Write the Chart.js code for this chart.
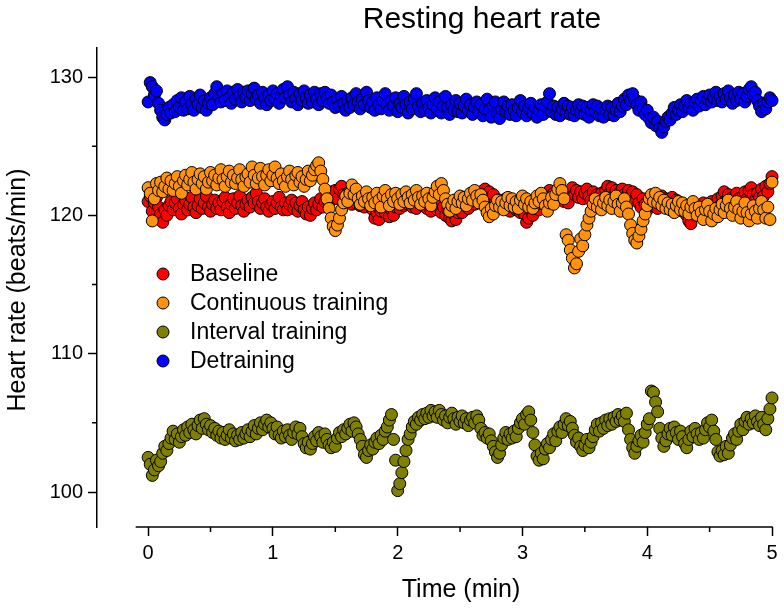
<!DOCTYPE html>
<html>
<head>
<meta charset="utf-8">
<title>Resting heart rate</title>
<script src="https://cdn.jsdelivr.net/npm/chart.js@4.4.1/dist/chart.umd.min.js"></script>
<style>
  html, body { margin: 0; padding: 0; background: #fff; }
  #wrap { position: relative; width: 784px; height: 609px; }
</style>
</head>
<body>
<div id="wrap"><canvas id="chart"></canvas></div>
<script>
// one reading per second, 0 to 5 min; each line below is 0.1 min
const SAMPLE_MIN = 1 / 60;

const baseline = [
  121.0, 121.4, 120.3, 120.9, 121.3, 120.6,
  120.1, 119.5, 120.4, 120.0, 120.7, 121.0,
  120.4, 120.9, 121.2, 120.5, 120.1, 120.8,
  121.1, 120.4, 120.8, 121.3, 120.6, 120.2,
  120.7, 121.2, 120.5, 120.9, 121.4, 120.6,
  120.3, 120.8, 121.1, 120.5, 120.9, 120.4,
  121.0, 121.3, 120.6, 120.2, 120.8, 121.2,
  120.5, 120.9, 121.4, 120.7, 120.3, 120.8,
  121.1, 120.6, 121.3, 120.9, 121.6, 121.0,
  120.5, 120.9, 121.2, 120.6, 120.3, 120.8,
  121.0, 120.5, 120.9, 121.3, 120.6, 120.4,
  120.9, 120.4, 120.8, 121.1, 120.5, 120.9,
  120.3, 120.7, 121.0, 120.4, 120.1, 120.6,
  120.0, 120.5, 120.9, 120.4, 120.8, 121.2,
  120.6, 121.0, 121.4, 120.9, 121.7, 121.3,
  121.8, 121.2, 121.9, 122.1, 121.5, 121.0,
  121.6, 121.2, 120.8, 121.4, 120.9, 121.3,
  120.7, 121.1, 120.6, 120.9, 121.3, 120.8,
  120.4, 119.8, 120.2, 119.7, 120.3, 120.7,
  120.2, 120.8, 119.9, 120.4, 120.0, 120.6,
  121.0, 120.5, 121.1, 120.7, 121.3, 120.8,
  121.2, 120.6, 121.0, 120.5, 120.9, 121.3,
  120.7, 121.1, 120.5, 120.8, 120.3, 120.7,
  121.0, 120.4, 120.8, 120.2, 120.6, 120.0,
  120.4, 119.8, 119.6, 120.1, 119.7, 120.2,
  120.6, 120.2, 120.8, 121.1, 120.5, 120.9,
  121.3, 120.8, 121.5, 121.2, 121.7, 121.4,
  121.9, 121.3, 121.7, 121.1, 121.5, 120.9,
  120.6, 121.1, 120.5, 120.9, 121.2, 120.6,
  120.3, 120.8, 121.0, 120.4, 120.7, 120.2,
  120.6, 120.1, 119.5, 119.8, 120.4, 120.0,
  120.5, 120.9, 120.4, 121.2, 120.8, 121.4,
  121.0, 121.8, 121.3, 121.6, 121.1, 121.5,
  121.2, 121.7, 121.0, 121.4, 120.9, 121.6,
  122.0, 121.5, 121.8, 121.3, 121.7, 121.2,
  121.6, 121.9, 121.4, 121.1, 121.7, 121.3,
  121.5, 121.0, 121.6, 121.2, 121.8, 122.1,
  121.6, 122.0, 121.4, 121.8, 121.3, 121.7,
  121.9, 121.5, 121.2, 121.8, 121.4, 121.7,
  121.1, 121.5, 120.9, 120.6, 121.2, 120.8,
  120.4, 120.9, 121.3, 120.7, 121.0, 120.5,
  120.9, 121.4, 120.8, 121.2, 120.6, 121.0,
  121.3, 120.7, 121.1, 120.5, 120.9, 120.3,
  120.6, 120.0, 119.6, 119.4, 120.1, 120.5,
  120.2, 120.7, 120.3, 120.9, 120.5, 120.1,
  120.6, 121.0, 120.4, 120.8, 121.2, 120.7,
  121.4, 121.7, 121.1, 121.5, 120.9, 121.3,
  121.0, 121.6, 121.2, 120.8, 121.4, 121.7,
  121.2, 121.8, 122.0, 121.5, 121.1, 121.6,
  121.3, 121.9, 121.4, 122.1, 121.7, 122.3,
  122.8,
];

const continuous = [
  122.0, 121.6, 119.6, 121.2, 122.3, 121.8,
  122.4, 121.7, 122.1, 122.7, 121.9, 122.5,
  121.8, 122.3, 122.8, 122.1, 121.6, 122.5,
  122.9, 122.2, 122.6, 123.1, 122.4, 121.9,
  122.6, 123.0, 122.3, 122.8, 121.9, 122.4,
  123.1, 122.5, 122.9, 122.2, 122.7, 123.3,
  122.6, 122.1, 122.8, 123.2, 122.4, 122.9,
  122.3, 122.7, 123.3, 122.6, 122.1, 122.8,
  123.0, 122.4, 123.5, 122.9, 122.3, 122.7,
  123.4, 122.8, 122.2, 122.9, 123.3, 122.5,
  122.9, 123.5, 122.7, 122.3, 123.0, 122.5,
  122.1, 122.8, 123.2, 122.6, 122.2, 122.9,
  123.1, 122.4, 122.8, 122.1, 122.6, 123.2,
  122.5, 122.9, 123.3, 123.6, 123.8, 123.2,
  122.6, 121.9, 121.2, 120.5, 119.8, 119.2,
  118.9, 119.3, 119.8, 120.4, 120.9, 121.4,
  121.0, 121.6, 122.2, 121.5, 121.9, 121.2,
  120.8, 121.4, 121.0, 121.7, 121.2, 120.7,
  121.3, 120.9, 121.6, 121.1, 120.6, 121.4,
  121.8, 121.2, 120.7, 121.5, 121.0, 121.6,
  121.2, 120.8, 121.5, 121.0, 121.7, 121.3,
  120.9, 121.5, 121.1, 121.8, 121.3, 120.8,
  121.4, 121.0, 121.6, 121.2, 120.7, 121.3,
  121.7, 122.1, 121.5, 122.3, 121.8, 121.2,
  120.8, 120.3, 120.7, 121.1, 120.5, 121.0,
  121.4, 120.9, 121.3, 120.7, 121.2, 121.6,
  121.1, 121.8, 121.4, 120.9, 121.5, 121.1,
  120.6, 120.2, 119.9, 120.5, 120.1, 120.7,
  121.1, 120.6, 121.0, 120.4, 120.9, 121.3,
  120.7, 121.2, 120.6, 121.0, 120.5, 121.1,
  121.4, 120.8, 121.2, 120.6, 121.0, 120.5,
  120.9, 121.4, 121.0, 121.6, 121.2, 120.7,
  120.3, 120.9, 121.3, 120.8, 121.5, 121.9,
  122.3, 121.8, 121.2, 118.6, 118.2, 117.5,
  116.9, 116.2, 116.5, 117.4, 118.3, 117.8,
  118.6, 119.3, 119.8, 120.3, 120.8, 121.2,
  120.6, 121.0, 120.4, 120.9, 121.3, 120.7,
  121.1, 120.5, 121.0, 121.4, 120.8, 120.3,
  120.9, 121.2, 120.6, 120.1, 119.3, 118.7,
  118.2, 118.0, 118.5, 119.0, 119.6, 120.1,
  120.7, 121.2, 121.5, 121.0, 121.6, 120.9,
  121.3, 120.7, 121.1, 120.5, 120.9, 120.4,
  120.8, 120.2, 120.7, 121.0, 120.4, 120.9,
  120.3, 120.7, 120.1, 120.6, 121.0, 120.5,
  120.0, 120.6, 120.2, 119.7, 120.4, 120.8,
  120.3, 119.6, 120.1, 120.5, 119.9, 120.4,
  120.8, 120.2, 120.7, 121.1, 120.5, 120.0,
  120.6, 121.0, 120.4, 119.8, 120.3, 120.9,
  120.2, 119.6, 120.1, 120.7, 120.3, 119.8,
  120.5, 121.0, 120.4, 119.8, 120.6, 119.7,
  122.4,
];

const interval = [
  102.5, 102.0, 101.2, 101.6, 102.3, 101.9,
  102.2, 102.8, 103.3, 103.0, 103.5, 103.9,
  104.4, 103.8, 104.2, 103.6, 104.0, 104.5,
  104.1, 104.7, 104.3, 104.9, 104.5, 104.2,
  104.8, 105.2, 104.6, 105.3, 104.9, 104.5,
  104.8, 104.3, 104.6, 104.1, 104.4, 103.9,
  104.3, 103.8, 104.1, 104.5, 103.9, 104.2,
  103.7, 104.1, 103.8, 104.3, 103.9, 104.2,
  104.5, 104.0, 104.4, 104.8, 104.2, 104.6,
  105.0, 104.5, 104.9, 105.2, 104.7, 105.0,
  104.6, 104.2, 104.7, 104.1, 103.9, 104.4,
  104.0, 104.5, 104.1, 103.8, 104.3, 104.7,
  104.2, 104.6, 104.0, 103.5, 103.2, 103.6,
  103.1, 103.5, 104.0, 103.7, 104.3, 104.0,
  103.6, 104.2, 103.8, 103.4, 103.2, 103.6,
  103.3, 103.9, 104.3, 104.0, 104.5, 104.2,
  104.6, 104.9, 104.4, 105.0, 104.7, 104.2,
  103.8, 103.3, 102.7, 102.5, 103.0, 103.4,
  103.1, 103.6, 103.9, 103.5, 104.1, 103.8,
  104.4, 104.7, 105.2, 105.6, 103.8, 102.3,
  100.1, 100.6, 101.4, 102.2, 103.0, 103.8,
  104.2, 104.7, 105.1, 104.9, 105.4, 105.2,
  105.6, 105.3, 105.7, 105.4, 105.9, 105.5,
  105.8, 105.4, 105.9, 105.6, 105.2, 105.5,
  105.0, 105.4, 105.7, 105.3, 104.9, 105.4,
  105.1, 105.5, 105.0, 105.3, 104.8, 105.2,
  105.4, 105.0, 105.5, 105.2, 104.6, 104.1,
  104.3, 103.9, 104.2, 103.7, 103.3, 102.9,
  102.5, 102.8, 103.4, 103.9, 104.3, 103.8,
  104.2, 103.9, 104.4, 104.0, 104.6, 105.0,
  105.3, 104.9, 105.6, 105.8, 105.2, 104.3,
  103.4, 102.6, 102.3, 102.8, 102.4, 103.1,
  103.5, 103.2, 103.8, 104.2, 103.7, 104.4,
  104.7, 104.3, 104.9, 105.3, 104.8, 105.1,
  104.6, 104.1, 103.6, 103.9, 103.3, 103.0,
  103.4, 103.8, 103.2, 103.6, 104.0, 104.5,
  104.9, 104.4, 105.0, 104.6, 105.2, 104.8,
  105.3, 104.9, 105.4, 105.1, 105.6, 105.2,
  105.5, 105.1, 105.7, 104.5, 103.8, 103.2,
  102.8, 103.3, 103.7, 104.1, 103.6, 104.3,
  104.9, 105.3, 107.3, 107.2, 106.5, 105.8,
  104.6, 103.9, 103.3, 103.7, 104.2, 104.6,
  104.1, 104.7, 104.3, 103.8, 104.4, 104.0,
  103.5, 103.2, 103.8, 104.4, 104.0, 104.6,
  104.2, 103.8, 104.3, 103.9, 104.5, 105.0,
  104.7, 105.2, 104.4, 103.8, 102.9, 102.6,
  103.0, 102.7, 103.3, 102.8, 103.4, 103.9,
  104.2, 103.8, 104.4, 104.9, 104.5, 105.1,
  105.4, 104.9, 105.3, 105.0, 105.5, 105.1,
  104.8, 105.4, 104.9, 104.5, 105.3, 106.0,
  106.8,
];

const detraining = [
  128.2, 129.6, 129.3, 128.7, 129.0, 128.1,
  127.6, 127.1, 126.9, 127.3, 127.8, 127.4,
  128.0, 127.5, 128.3, 127.8, 128.5, 127.6,
  128.2, 127.7, 128.6, 128.0, 127.6, 128.4,
  128.0, 128.7, 127.8, 128.3, 127.6, 128.1,
  128.5, 128.0, 128.8, 129.3, 128.6, 128.2,
  128.8, 128.3, 129.0, 128.5, 128.1, 128.9,
  128.4, 129.1, 128.6, 128.2, 128.9, 128.5,
  129.0, 128.3, 128.8, 129.2, 128.4, 128.7,
  128.1, 128.9, 128.5, 128.0, 128.7, 128.3,
  129.0, 128.4, 128.8, 128.1, 128.6, 129.1,
  128.5, 129.3, 128.7, 128.2, 128.9, 128.4,
  128.0, 128.8, 128.3, 129.0, 128.5, 128.1,
  128.7, 128.2, 128.9, 128.4, 128.0, 128.8,
  128.3, 128.9, 128.5, 128.1, 128.7, 128.2,
  127.8, 128.4, 127.9, 128.6, 128.1, 127.6,
  128.3, 127.8, 128.5, 128.0, 128.8, 128.2,
  127.7, 128.4, 128.0, 128.9, 128.3, 127.8,
  128.2, 127.6, 128.5, 128.0, 127.7, 128.3,
  128.8, 128.0, 127.6, 128.3, 127.9, 128.5,
  127.5, 128.1, 127.8, 128.6, 128.0, 127.4,
  128.2, 127.7, 128.4, 128.8, 127.9, 127.5,
  128.1, 127.6, 128.3, 127.8, 127.4, 128.0,
  128.5, 127.7, 128.2, 127.4, 127.9, 128.6,
  127.8, 127.3, 128.0, 127.6, 128.3, 127.5,
  128.1, 127.4, 127.9, 128.4, 127.6, 128.0,
  127.3, 127.8, 128.2, 127.5, 128.0, 127.2,
  127.7, 128.4, 127.6, 127.1, 127.9, 128.2,
  127.4, 127.0, 127.7, 128.2, 127.5, 127.9,
  127.3, 128.0, 127.6, 127.2, 127.8, 128.3,
  127.5, 127.9, 127.2, 127.7, 128.1, 127.4,
  127.8, 127.1, 127.6, 128.0, 127.3, 127.9,
  128.2, 128.8, 127.5, 127.9, 127.3, 127.8,
  127.2, 127.7, 128.1, 127.4, 127.9, 127.3,
  127.8, 127.2, 127.6, 128.0, 127.4, 127.9,
  127.3, 127.8, 127.1, 127.6, 128.0, 127.5,
  127.9, 127.2, 127.7, 127.1, 127.6, 127.9,
  127.3, 127.8, 127.2, 127.6, 128.1, 127.5,
  127.9, 128.4, 128.0, 128.7, 128.3, 128.8,
  128.4, 128.0, 127.6, 128.2, 127.7, 127.3,
  127.6, 127.0, 126.7, 127.1, 126.5, 126.8,
  126.3, 126.0, 126.4, 126.8, 127.1, 126.9,
  127.4, 127.8, 127.3, 127.6, 128.0, 127.5,
  127.9, 128.3, 127.8, 128.1, 127.6, 128.2,
  128.4, 127.9, 128.3, 128.6, 128.0, 128.4,
  128.7, 128.2, 128.5, 128.9, 128.3, 128.6,
  128.2, 128.8, 128.4, 129.0, 128.5, 128.1,
  128.7, 128.3, 128.9, 128.4, 128.8, 128.2,
  128.6, 129.1, 129.3, 128.7, 128.9, 128.3,
  127.9, 127.5, 128.1, 127.7, 128.2, 128.5,
  128.3,
];

const seriesNames = ["Baseline", "Continuous training", "Interval training", "Detraining"];

const xMajorTicks = [0, 1, 2, 3, 4, 5];
const xMinorTicks = [0.5, 1.5, 2.5, 3.5, 4.5];
const yMajorTicks = [100, 110, 120, 130];
const yMinorTicks = [105, 115, 125];

const chartTitle = "Resting heart rate";
const xTitle = "Time (min)";
const yTitle = "Heart rate (beats/min)";

const FONT = "'Liberation Sans', Arial, sans-serif";
const COLORS = ["#ff0000", "#ff920e", "#808000", "#0000ff"];
// orange is drawn over red, as in the original
const DRAW_ORDER = [2, 1, 3, 4];

Chart.defaults.font.family = FONT;
Chart.defaults.color = "#000";

const toPoints = (values) => values.map((y, i) => ({ x: i * SAMPLE_MIN, y }));
const asTicks = (list) => list.slice().sort((a, b) => a - b).map((v) => ({ value: v }));
const isMajor = (list) => (ctx) => (ctx.tick && list.includes(ctx.tick.value) ? "#000" : "rgba(0,0,0,0)");

// titles, legend, offset x axis line and the short minor ticks
const decor = {
  id: "decor",
  afterDraw(chart, args, opts) {
    const { ctx, chartArea, scales } = chart;
    const { x, y } = scales;
    ctx.save();
    ctx.strokeStyle = "#000";
    ctx.lineWidth = 1.5;

    ctx.beginPath();
    ctx.moveTo(x.getPixelForValue(opts.xAxisFrom), chartArea.bottom);
    ctx.lineTo(x.right + 0.75, chartArea.bottom);
    ctx.stroke();

    ctx.beginPath();
    for (const v of xMinorTicks) {
      const px = x.getPixelForValue(v);
      ctx.moveTo(px, chartArea.bottom);
      ctx.lineTo(px, chartArea.bottom + opts.minorLen);
    }
    for (const v of yMinorTicks) {
      const py = y.getPixelForValue(v);
      ctx.moveTo(chartArea.left, py);
      ctx.lineTo(chartArea.left - opts.minorLen, py);
    }
    ctx.stroke();

    ctx.fillStyle = "#000";
    ctx.textBaseline = "alphabetic";
    ctx.textAlign = "center";
    ctx.font = `30px ${FONT}`;
    ctx.fillText(chartTitle, opts.title.x, opts.title.y);
    ctx.font = `25px ${FONT}`;
    ctx.fillText(xTitle, opts.xTitle.x, opts.xTitle.y);
    ctx.save();
    ctx.translate(opts.yTitle.x, opts.yTitle.y);
    ctx.rotate(-Math.PI / 2);
    ctx.fillText(yTitle, 0, 0);
    ctx.restore();

    const lg = opts.legend;
    ctx.textAlign = "left";
    ctx.textBaseline = "middle";
    ctx.font = `23px ${FONT}`;
    chart.data.datasets.forEach((ds, i) => {
      const cy = lg.y + i * lg.rowHeight;
      ctx.beginPath();
      ctx.arc(lg.x, cy, lg.radius, 0, Math.PI * 2);
      ctx.fillStyle = ds.backgroundColor;
      ctx.fill();
      ctx.lineWidth = 1;
      ctx.strokeStyle = "#000";
      ctx.stroke();
      ctx.fillStyle = "#000";
      ctx.fillText(ds.label, lg.textX, cy + 1);
    });
    ctx.restore();
  },
};

new Chart(document.getElementById("chart"), {
  type: "scatter",
  data: {
    datasets: [baseline, continuous, interval, detraining].map((values, k) => ({
      label: seriesNames[k],
      data: toPoints(values),
      backgroundColor: COLORS[k],
      borderColor: "#000",
      borderWidth: 1,
      pointRadius: 6,
      pointHoverRadius: 6,
      order: DRAW_ORDER[k],
      clip: false,
    })),
  },
  options: {
    responsive: true,
    maintainAspectRatio: false,
    animation: false,
    events: [],
    layout: { padding: { top: 48, right: 12, left: 0, bottom: 0 } },
    plugins: {
      legend: { display: false },
      tooltip: { enabled: false },
      decor: {
        xAxisFrom: -0.1,
        minorLen: 5,
        title: { x: 482, y: 28 },
        xTitle: { x: 461, y: 597 },
        yTitle: { x: 25, y: 290 },
        legend: { x: 163, y: 274, rowHeight: 29, radius: 6, textX: 190 },
      },
    },
    scales: {
      x: {
        type: "linear",
        min: -0.41,
        max: 5,
        afterBuildTicks: (s) => { s.ticks = asTicks([...xMajorTicks, ...xMinorTicks]); },
        afterFit: (s) => { s.height = 82; },
        border: { display: false },
        grid: { drawOnChartArea: false, tickLength: 9, tickWidth: 1.5, tickColor: isMajor(xMajorTicks) },
        ticks: {
          autoSkip: false,
          maxRotation: 0,
          padding: 5,
          font: { size: 20 },
          callback: (v) => (xMajorTicks.includes(v) ? String(v) : ""),
        },
      },
      y: {
        min: 97.47,
        max: 132.1,
        afterBuildTicks: (s) => { s.ticks = asTicks([...yMajorTicks, ...yMinorTicks]); },
        afterFit: (s) => { s.width = 97; },
        border: { display: true, color: "#000", width: 1.5 },
        grid: { drawOnChartArea: false, tickLength: 9, tickWidth: 1.5, tickColor: isMajor(yMajorTicks) },
        ticks: {
          autoSkip: false,
          padding: 5,
          font: { size: 20 },
          callback: (v) => (yMajorTicks.includes(v) ? String(v) : ""),
        },
      },
    },
  },
  plugins: [decor],
});
</script>
</body>
</html>
